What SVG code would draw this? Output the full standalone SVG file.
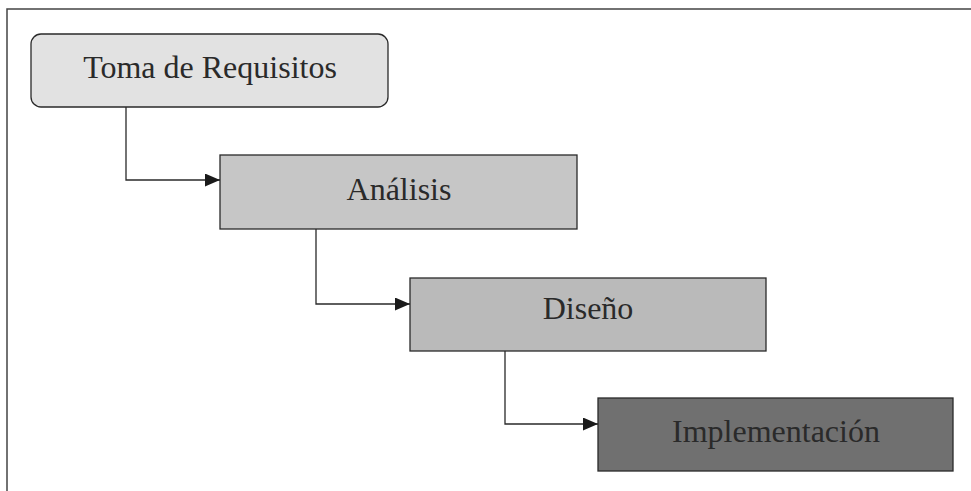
<svg xmlns="http://www.w3.org/2000/svg" width="971" height="491" viewBox="0 0 971 491">
<style>
.n{stroke:#2a2a2a;stroke-width:1.3}
.t{font-family:"Liberation Serif",serif;font-size:32px;text-anchor:middle;fill:#2a2a2a}
.c{fill:none;stroke:#2a2a2a;stroke-width:1.3}
</style>
<defs>
<marker id="a" viewBox="0 0 15 13" refX="15" refY="6.5" markerWidth="15" markerHeight="13" markerUnits="userSpaceOnUse" orient="auto">
<path d="M0,0L15,6.5L0,13z" fill="#1a1a1a"/>
</marker>
</defs>
<rect width="971" height="491" fill="#fff"/>
<path d="M7,491V9H971" fill="none" stroke="#444" stroke-width="1.5"/>
<g id="n1"><rect class="n" x="31" y="34" width="357" height="73" rx="10" fill="#e2e2e2"/><text class="t" x="210" y="78">Toma de Requisitos</text></g>
<g id="n2"><rect class="n" x="220" y="155" width="357" height="74" fill="#c6c6c6"/><text class="t" x="399" y="200">Análisis</text></g>
<g id="n3"><rect class="n" x="410" y="278" width="356" height="73" fill="#bababa"/><text class="t" x="588" y="319">Diseño</text></g>
<g id="n4"><rect class="n" x="598" y="398" width="355" height="73" fill="#707070"/><text class="t" x="776" y="442" fill="#1e1e1e">Implementación</text></g>
<g id="connectors">
<path class="c" d="M126,107V180H220" marker-end="url(#a)"/>
<path class="c" d="M316,229V304H410" marker-end="url(#a)"/>
<path class="c" d="M505,351V424H598" marker-end="url(#a)"/>
</g>
</svg>
